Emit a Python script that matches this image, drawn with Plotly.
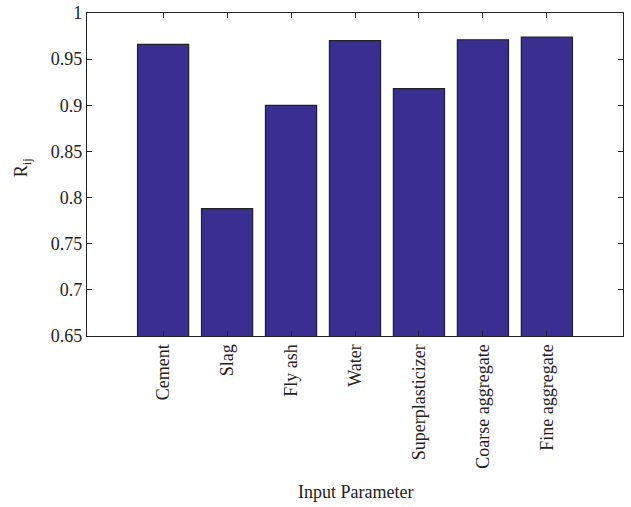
import plotly.graph_objects as go

categories = ["Cement", "Slag", "Fly ash", "Water", "Superplasticizer",
              "Coarse aggregate", "Fine aggregate"]
rij_values = [0.966, 0.788, 0.900, 0.970, 0.918, 0.971, 0.974]
y_tick_values = [0.65, 0.7, 0.75, 0.8, 0.85, 0.9, 0.95, 1.0]
y_tick_labels = ["0.65", "0.7", "0.75", "0.8", "0.85", "0.9", "0.95", "1"]

FONT = "Liberation Serif"
FS = 18
INK = "#222222"

fig = go.Figure()
fig.add_trace(go.Bar(
    x=list(range(len(categories))),
    y=rij_values,
    width=0.8,
    marker=dict(color="#382f91", line=dict(color=INK, width=1.2)),
    showlegend=False,
    hoverinfo="skip",
))

fig.update_layout(
    width=631, height=507,
    margin=dict(l=87, r=8, t=13, b=171, autoexpand=False),
    paper_bgcolor="white", plot_bgcolor="white",
    font=dict(family=FONT, size=FS, color=INK),
)
fig.update_xaxes(
    range=[-1.19, 7.19],
    tickmode="array",
    tickvals=list(range(len(categories))),
    ticktext=categories,
    tickangle=-90,
    ticks="inside", ticklen=5, tickcolor=INK, tickwidth=1,
    showline=True, linecolor=INK, linewidth=1.2, mirror="ticks",
    showgrid=False, zeroline=False, automargin=False,
    tickfont=dict(family=FONT, size=FS, color=INK),
)
fig.update_yaxes(
    range=[0.65, 1.0],
    tickmode="array",
    tickvals=y_tick_values,
    ticktext=y_tick_labels,
    ticks="inside", ticklen=5, tickcolor=INK, tickwidth=1,
    showline=True, linecolor=INK, linewidth=1.2, mirror="ticks",
    showgrid=False, zeroline=False, automargin=False,
    tickfont=dict(family=FONT, size=FS, color=INK),
)

fig.add_annotation(
    text="Input Parameter", xref="paper", yref="paper",
    x=0.5, y=-0.483, xanchor="center", yanchor="middle",
    showarrow=False, font=dict(family=FONT, size=FS, color=INK),
)
fig.add_annotation(
    text="R<sub>ij</sub>", xref="paper", yref="paper",
    x=-0.121, y=0.52, xanchor="center", yanchor="middle",
    textangle=-90, showarrow=False,
    font=dict(family=FONT, size=FS, color=INK),
)

fig.write_html(
    "out.html",
    config={"displayModeBar": False},
    post_script="document.body.style.margin='0';document.body.style.padding='0';document.body.style.overflow='hidden';",
)
